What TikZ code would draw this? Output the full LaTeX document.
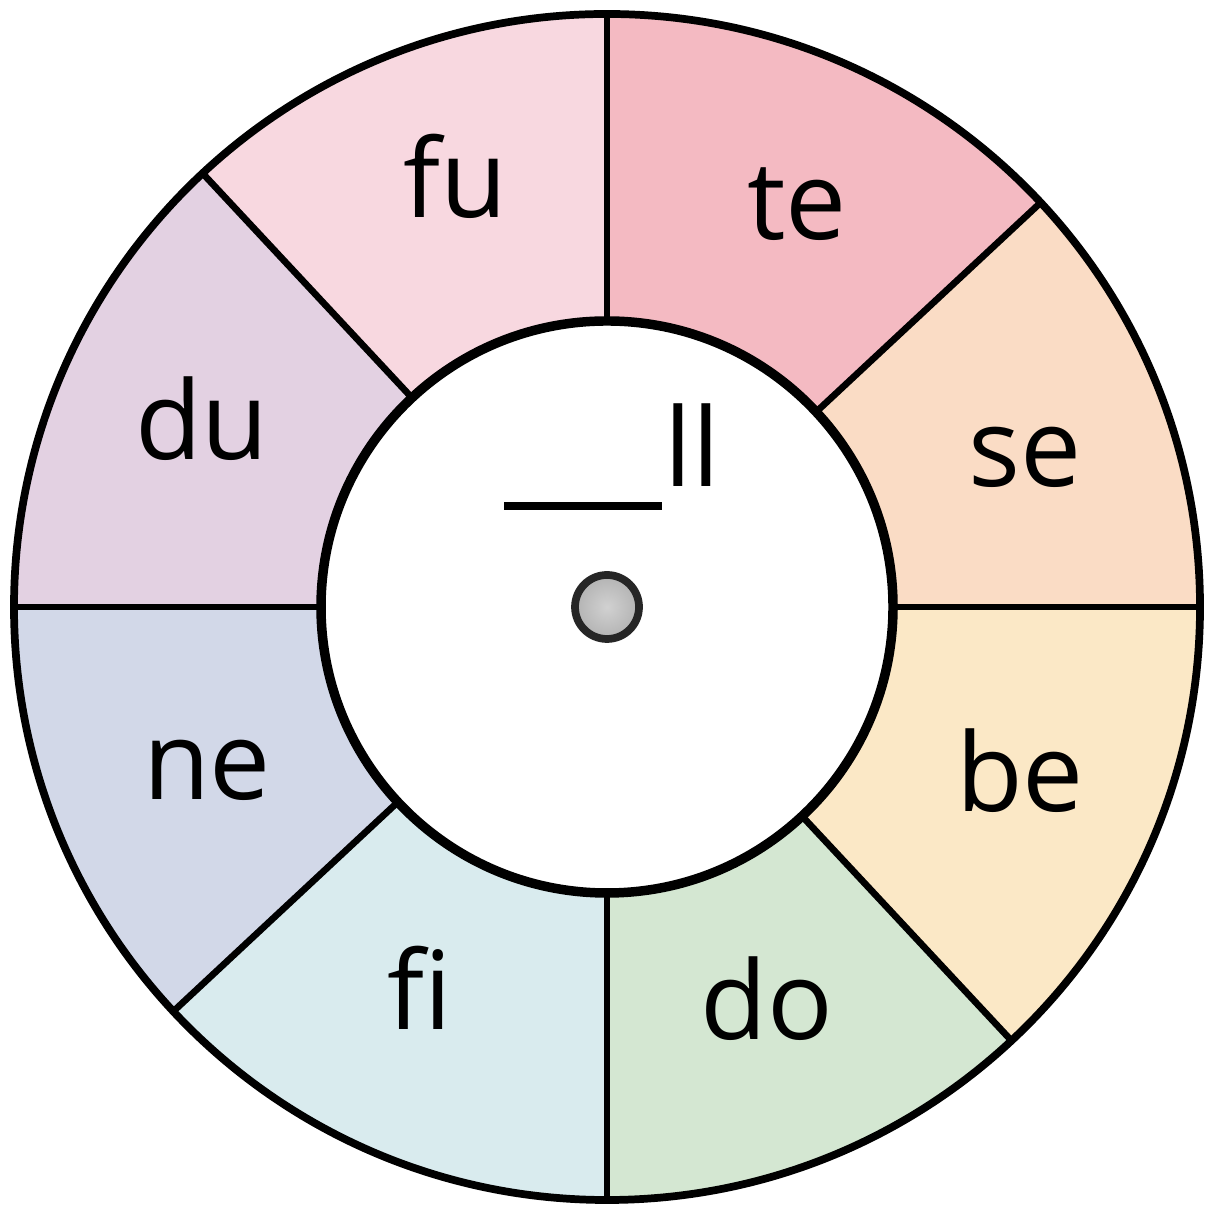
\documentclass[tikz,border=0pt]{standalone}
\usepackage{fontspec}
\setmainfont{Open Sans}
\usepackage{xcolor}
\usetikzlibrary{calc}
\definecolor{fupink}{RGB}{248, 216, 224}
\definecolor{tepink}{RGB}{244, 186, 194}
\definecolor{sepeach}{RGB}{250, 220, 197}
\definecolor{beyellow}{RGB}{251, 232, 198}
\definecolor{dogreen}{RGB}{212, 231, 210}
\definecolor{ficyan}{RGB}{217, 235, 238}
\definecolor{neblue}{RGB}{210, 216, 232}
\definecolor{dulilac}{RGB}{227, 209, 226}
\tikzset{
    syll/.style={anchor=base, inner sep=0pt, font=\fontsize{31}{36}\selectfont},
    rim/.style={draw=black, line width=2.2pt},
    spoke/.style={draw=black, line width=1.9pt},
    hub/.style={draw=black, line width=2.7pt, fill=white}
}
\begin{document}
\begin{tikzpicture}
                \useasboundingbox (0,0) rectangle (12.05,12.05);
                \coordinate (c) at (6.07,5.98);
                % coloured sectors
                \foreach \a/\b/\col in {43/90/tepink, 90/133/fupink, 133/180/dulilac, 180/223/neblue,
                                        223/270/ficyan, 270/313/dogreen, 313/360/beyellow, 0/43/sepeach}
                    \fill[\col] (c) -- ($(c)+(\a:5.94)$) arc (\a:\b:5.94) -- cycle;
                \foreach \a in {0,43,90,133,180,223,270,313}
                    \draw[spoke] ($(c)+(\a:2.8)$) -- ($(c)+(\a:5.94)$);
                \draw[rim] (c) circle (5.93);
                \draw[hub] (c) circle (2.86);
                % centre pin
                \shade[inner color=black!18, outer color=black!30] (c) circle (0.32);
                \draw[black!85, line width=2.2pt] (c) circle (0.32);
                % syllables
                \node[syll] (fu) at (4.55,9.87) {fu};
                \node[syll] (te) at (7.97,9.65) {te};
                \node[syll] (se) at (10.25,7.18) {se};
                \node[syll] (be) at (10.20,3.93) {be};
                \node[syll] (do) at (7.67,1.65) {do};
                \node[syll] (fi) at (4.20,1.75) {fi};
                \node[syll] (ne) at (2.07,4.05) {ne};
                \node[syll] (du) at (2.02,7.45) {du};
                % blank and ending
                \node[syll, anchor=base west] (ll) at (6.64,7.18) {ll};
                \draw[line width=2.3pt] (5.04,6.99) -- (6.62,6.99);
            \end{tikzpicture}
\end{document}
